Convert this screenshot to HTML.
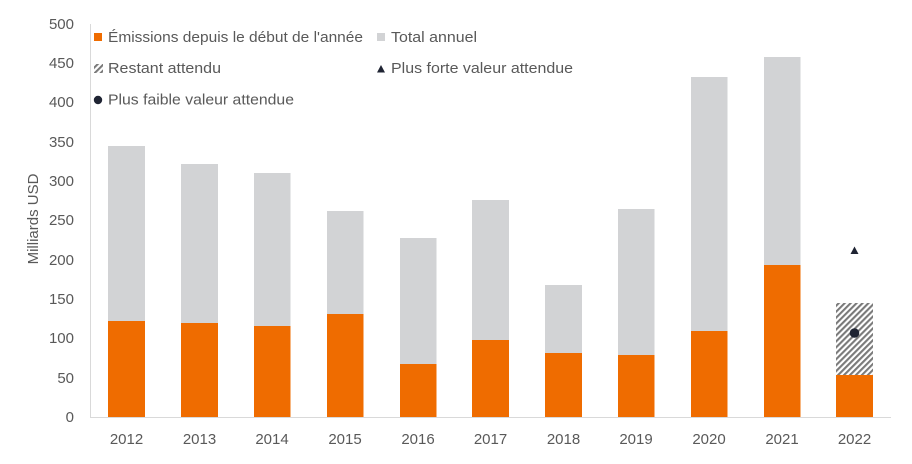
<!DOCTYPE html>
<html>
<head>
<meta charset="utf-8">
<style>
  html, body { margin: 0; padding: 0; background: #ffffff; }
  svg { display: block; }
  text { font-family: "Liberation Sans", Arial, sans-serif; fill: #595959; }
</style>
</head>
<body>
<svg width="912" height="464" viewBox="0 0 912 464" xmlns="http://www.w3.org/2000/svg">
  <defs>
    <pattern id="hatch" patternUnits="userSpaceOnUse" width="4.2" height="4.2" patternTransform="rotate(45)">
      <rect width="4.2" height="4.2" fill="#ffffff"/>
      <line x1="1" y1="0" x2="1" y2="4.2" stroke="#7a7a7a" stroke-width="2.2"/>
    </pattern>
  </defs>

  <!-- axes -->
  <line x1="90.5" y1="24" x2="90.5" y2="417" stroke="#d9d9d9" stroke-width="1"/>

  <!-- y tick labels -->
  <g font-size="15" text-anchor="end">
    <text x="74" y="422">0</text>
    <text x="74" y="383">50</text>
    <text x="74" y="343">100</text>
    <text x="74" y="304">150</text>
    <text x="74" y="265">200</text>
    <text x="74" y="225">250</text>
    <text x="74" y="186">300</text>
    <text x="74" y="147">350</text>
    <text x="74" y="107">400</text>
    <text x="74" y="68">450</text>
    <text x="74" y="29">500</text>
  </g>

  <!-- y axis title -->
  <text x="0" y="0" font-size="15" text-anchor="middle" transform="translate(38,219) rotate(-90)">Milliards USD</text>

  <!-- bars: total (gray) -->
  <g fill="#d2d3d5">
    <rect x="108" y="146" width="37" height="271"/>
    <rect x="181" y="164" width="37" height="253"/>
    <rect x="254" y="173" width="36.5" height="244"/>
    <rect x="327" y="211" width="36.5" height="206"/>
    <rect x="400" y="238" width="36.5" height="179"/>
    <rect x="472" y="200" width="37" height="217"/>
    <rect x="545" y="285" width="37" height="132"/>
    <rect x="618" y="209" width="36.5" height="208"/>
    <rect x="691" y="77" width="36.5" height="340"/>
    <rect x="764" y="57" width="36.5" height="360"/>
  </g>
  <!-- hatched remaining 2022 -->
  <rect x="836" y="303" width="37" height="72" fill="url(#hatch)"/>

  <!-- bars: YTD (orange) -->
  <g fill="#ef6c00">
    <rect x="108" y="321" width="37" height="96"/>
    <rect x="181" y="323" width="37" height="94"/>
    <rect x="254" y="326" width="36.5" height="91"/>
    <rect x="327" y="314" width="36.5" height="103"/>
    <rect x="400" y="364" width="36.5" height="53"/>
    <rect x="472" y="340" width="37" height="77"/>
    <rect x="545" y="353" width="37" height="64"/>
    <rect x="618" y="355" width="36.5" height="62"/>
    <rect x="691" y="331" width="36.5" height="86"/>
    <rect x="764" y="265" width="36.5" height="152"/>
    <rect x="836" y="375" width="37" height="42"/>
  </g>

  <!-- x axis line -->
  <line x1="90" y1="417.5" x2="891" y2="417.5" stroke="#d9d9d9" stroke-width="1"/>

  <!-- markers 2022 -->
  <polygon points="854.5,246.5 858.5,254 850.5,254" fill="#1f2433"/>
  <circle cx="854.5" cy="333" r="4.8" fill="#1f2433"/>

  <!-- x labels -->
  <g font-size="15" text-anchor="middle">
    <text x="126.5" y="444">2012</text>
    <text x="199.5" y="444">2013</text>
    <text x="272" y="444">2014</text>
    <text x="345" y="444">2015</text>
    <text x="418" y="444">2016</text>
    <text x="490.5" y="444">2017</text>
    <text x="563.5" y="444">2018</text>
    <text x="636" y="444">2019</text>
    <text x="709" y="444">2020</text>
    <text x="782" y="444">2021</text>
    <text x="854.5" y="444">2022</text>
  </g>

  <!-- legend -->
  <rect x="94" y="33" width="8" height="8" fill="#ef6c00"/>
  <text x="108" y="42" font-size="15" textLength="255" lengthAdjust="spacingAndGlyphs">Émissions depuis le début de l'année</text>

  <rect x="377" y="33" width="8" height="8" fill="#d2d3d5"/>
  <text x="391" y="42" font-size="15" textLength="86" lengthAdjust="spacingAndGlyphs">Total annuel</text>

  <rect x="94" y="64" width="9" height="9" fill="url(#hatch)"/>
  <text x="108" y="73" font-size="15" textLength="113" lengthAdjust="spacingAndGlyphs">Restant attendu</text>

  <polygon points="381,65 385,72.5 377,72.5" fill="#1f2433"/>
  <text x="391" y="73" font-size="15" textLength="182" lengthAdjust="spacingAndGlyphs">Plus forte valeur attendue</text>

  <circle cx="98" cy="100" r="4.2" fill="#1f2433"/>
  <text x="108" y="104.5" font-size="15" textLength="186" lengthAdjust="spacingAndGlyphs">Plus faible valeur attendue</text>
</svg>
</body>
</html>
